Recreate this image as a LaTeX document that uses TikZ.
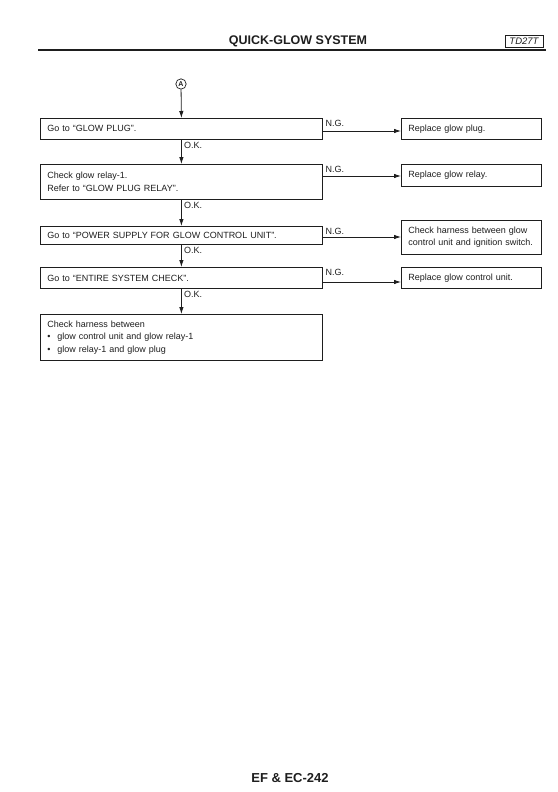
\documentclass[tikz,border=0pt]{standalone}
\usepackage{fontspec}
\setmainfont{Liberation Sans}
\usetikzlibrary{arrows.meta}
\definecolor{ink}{HTML}{1E1E1E}
\begin{document}
\begin{tikzpicture}[x=1pt,y=-1pt,
  every node/.style={text=ink},
  box/.style={draw=ink, line width=0.8pt, anchor=north west, inner xsep=7pt, inner ysep=2pt,
    align=left, font=\fontsize{9}{12.5}\selectfont},
  lbox/.style={box, minimum width=282pt, text width=268pt},
  rbox/.style={box, minimum width=140pt, text width=126pt},
  lbl/.style={font=\fontsize{9}{11}\selectfont, inner sep=1.5pt},
  arr/.style={draw=ink, line width=0.8pt, -{Latex[length=7pt,width=4.5pt]}},
  conn/.style={draw=ink, line width=0.8pt}]
\useasboundingbox (0,0) rectangle (557,792);

% header
\node[font=\bfseries\fontsize{12.5}{15}\selectfont] (title) at (298,41) {QUICK-GLOW SYSTEM};
\node[draw=ink, line width=0.8pt, minimum width=38pt, minimum height=12pt, inner sep=0pt,
  font=\itshape\fontsize{9.5}{10}\selectfont] (td) at (524,41) {TD27T};
\coordinate (ruleL) at (38,50.5);
\coordinate (ruleR) at (546,50.5);
\draw[ink, line width=2pt] (ruleL) -- (ruleR);

% start
\node[circle, draw=ink, line width=0.7pt, inner sep=1.2pt, font=\bfseries\fontsize{7}{8}\selectfont] (A) at (181,84) {A};

% left column
\node[lbox, minimum height=21pt] (b1) at (40,118) {Go to “GLOW PLUG”.};
\node[lbox, minimum height=35pt] (b2) at (40,164) {Check glow relay-1.\\Refer to “GLOW PLUG RELAY”.};
\node[lbox, minimum height=18pt] (b3) at (40,226) {Go to “POWER SUPPLY FOR GLOW CONTROL UNIT”.};
\node[lbox, minimum height=21pt] (b4) at (40,267) {Go to “ENTIRE SYSTEM CHECK”.};
\node[lbox, minimum height=46pt] (b5) at (40,314) {Check harness between\\
  \makebox[10pt][l]{•}glow control unit and glow relay-1\\
  \makebox[10pt][l]{•}glow relay-1 and glow plug};

% right column
\node[rbox, minimum height=21pt] (r1) at (401,118) {Replace glow plug.};
\node[rbox, minimum height=22pt] (r2) at (401,164) {Replace glow relay.};
\node[rbox, minimum height=34pt] (r3) at (401,220) {Check harness between glow\\control unit and ignition switch.};
\node[rbox, minimum height=21pt] (r4) at (401,267) {Replace glow control unit.};

% vertical flow
\draw[arr] (A) -- (b1.north);
\draw[arr] (b1.south) -- (b2.north);
\draw[arr] (b2.south) -- (b3.north);
\draw[arr] (b3.south) -- (b4.north);
\draw[arr] (b4.south) -- (b5.north);

% O.K. labels
\node[lbl, anchor=north west] (ok1) at ([xshift=1pt,yshift=-1pt]b1.south) {O.K.};
\node[lbl, anchor=north west] (ok2) at ([xshift=1pt,yshift=-1pt]b2.south) {O.K.};
\node[lbl, anchor=north west] (ok3) at ([xshift=1pt,yshift=-0.5pt]b3.south) {O.K.};
\node[lbl, anchor=north west] (ok4) at ([xshift=1pt,yshift=-1pt]b4.south) {O.K.};

% N.G. branches
\coordinate (ng1) at (0,131);
\coordinate (ng2) at (0,176);
\coordinate (ng3) at (0,237);
\coordinate (ng4) at (0,282);
\draw[arr] (b1.east |- ng1) -- (r1.west |- ng1);
\draw[arr] (b2.east |- ng2) -- (r2.west |- ng2);
\draw[arr] (b3.east |- ng3) -- (r3.west |- ng3);
\draw[arr] (b4.east |- ng4) -- (r4.west |- ng4);
\node[lbl, anchor=north west] (n1) at ([xshift=1pt,yshift=-0.5pt]b1.north east) {N.G.};
\node[lbl, anchor=north west] (n2) at ([xshift=1pt,yshift=-0.5pt]b2.north east) {N.G.};
\node[lbl, anchor=north west] (n3) at ([xshift=1pt,yshift=-0.5pt]b3.north east) {N.G.};
\node[lbl, anchor=north west] (n4) at ([xshift=1pt,yshift=-0.5pt]b4.north east) {N.G.};

% footer
\node[font=\bfseries\fontsize{13}{15}\selectfont] (foot) at (290,778) {EF \& EC-242};
\end{tikzpicture}
\end{document}
